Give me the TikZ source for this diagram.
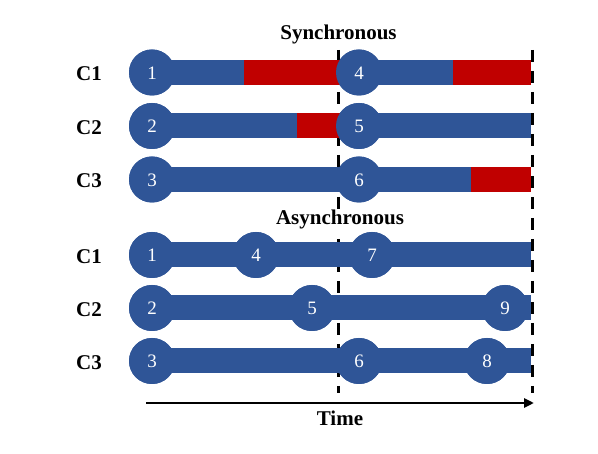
\documentclass[tikz,border=0pt]{standalone}
\usepackage{fontspec}
\setmainfont{Liberation Serif}
\usetikzlibrary{arrows.meta}
\definecolor{barblue}{HTML}{2F5597}
\definecolor{barred}{HTML}{C00000}
\begin{document}
\begin{tikzpicture}[x=1pt,y=-1pt,
  evt/.style={circle,fill=barblue,minimum size=46pt,inner sep=0pt},
  num/.style={anchor=base,text=white,font=\fontsize{19}{22}\selectfont},
  bluebar/.style={draw=barblue,line width=25pt},
  redbar/.style={draw=barred,line width=25pt},
  rowlab/.style={anchor=base,font=\fontsize{21}{24}\selectfont\bfseries},
  title/.style={anchor=base,font=\fontsize{21}{24}\selectfont\bfseries,fill=white,inner sep=1pt},
  sync/.style={black,line width=3pt,dash pattern=on 12pt off 9pt}]
\useasboundingbox (0,0) rectangle (598,454);
% dashed sync lines
\coordinate (d1t) at (338,50);
\coordinate (d1b) at (338,393);
\coordinate (d2t) at (532,50);
\coordinate (d2b) at (532,393);
\draw[sync] (d1t) -- (d1b);
\draw[sync] (d2t) -- (d2b);
% ---------- Synchronous ----------
\coordinate (s1a) at (244,72.5);
\coordinate (s1b) at (453,72.5);
\coordinate (s1e) at (531,72.5);
\node[evt] (S1) at (152,72.5) {};
\node[evt] (S4) at (359,72.5) {};
\coordinate (s2a) at (297,126);
\coordinate (s2e) at (531,126);
\node[evt] (S2) at (152,126) {};
\node[evt] (S5) at (359,126) {};
\coordinate (s3a) at (471,179.5);
\coordinate (s3e) at (531,179.5);
\node[evt] (S3) at (152,179.5) {};
\node[evt] (S6) at (359,179.5) {};
\draw[bluebar] (S1.center) -- (s1a);
\draw[redbar] (s1a) -- (S4.center);
\draw[bluebar] (S4.center) -- (s1b);
\draw[redbar] (s1b) -- (s1e);
\draw[bluebar] (S2.center) -- (s2a);
\draw[redbar] (s2a) -- (S5.center);
\draw[bluebar] (S5.center) -- (s2e);
\draw[bluebar] (S3.center) -- (S6.center);
\draw[bluebar] (S6.center) -- (s3a);
\draw[redbar] (s3a) -- (s3e);
\foreach \n in {S1,S2,S3,S4,S5,S6} {\node[evt] at (\n) {};}
\node[num] at ([yshift=-7pt]S1.center) {1};
\node[num] at ([yshift=-7pt]S2.center) {2};
\node[num] at ([yshift=-7pt]S3.center) {3};
\node[num] at ([yshift=-7pt]S4.center) {4};
\node[num] at ([yshift=-7pt]S5.center) {5};
\node[num] at ([yshift=-7pt]S6.center) {6};
% ---------- Asynchronous ----------
\coordinate (a1e) at (531,255);
\coordinate (a2e) at (531,308);
\coordinate (a3e) at (531,361);
\node[evt] (A1) at (152,255) {};
\node[evt] (A4) at (256,255) {};
\node[evt] (A7) at (372,255) {};
\node[evt] (A2) at (152,308) {};
\node[evt] (A5) at (312,308) {};
\node[evt] (A9) at (505,308) {};
\node[evt] (A3) at (152,361) {};
\node[evt] (A6) at (359,361) {};
\node[evt] (A8) at (487,361) {};
\draw[bluebar] (A1.center) -- (a1e);
\draw[bluebar] (A2.center) -- (a2e);
\draw[bluebar] (A3.center) -- (a3e);
\foreach \n in {A1,A2,A3,A4,A5,A6,A7,A8,A9} {\node[evt] at (\n) {};}
\node[num] at ([yshift=-7pt]A1.center) {1};
\node[num] at ([yshift=-7pt]A4.center) {4};
\node[num] at ([yshift=-7pt]A7.center) {7};
\node[num] at ([yshift=-7pt]A2.center) {2};
\node[num] at ([yshift=-7pt]A5.center) {5};
\node[num] at ([yshift=-7pt]A9.center) {9};
\node[num] at ([yshift=-7pt]A3.center) {3};
\node[num] at ([yshift=-7pt]A6.center) {6};
\node[num] at ([yshift=-7pt]A8.center) {8};
% row labels
\node[rowlab] (l1) at (89,81) {C1};
\node[rowlab] (l2) at (89,134.5) {C2};
\node[rowlab] (l3) at (89,188) {C3};
\node[rowlab] (l4) at (89,263.5) {C1};
\node[rowlab] (l5) at (89,316.5) {C2};
\node[rowlab] (l6) at (89,369.5) {C3};
% titles
\node[title] (tsync) at (338.5,39.5) {Synchronous};
\node[title] (tasync) at (340,225) {Asynchronous};
% time axis
\coordinate (t0) at (146,403);
\coordinate (t1) at (534,403);
\draw[line width=2.5pt,-{Triangle[length=10pt,width=9pt]}] (t0) -- (t1);
\node[rowlab] (time) at (340,425.5) {Time};
\end{tikzpicture}
\end{document}
